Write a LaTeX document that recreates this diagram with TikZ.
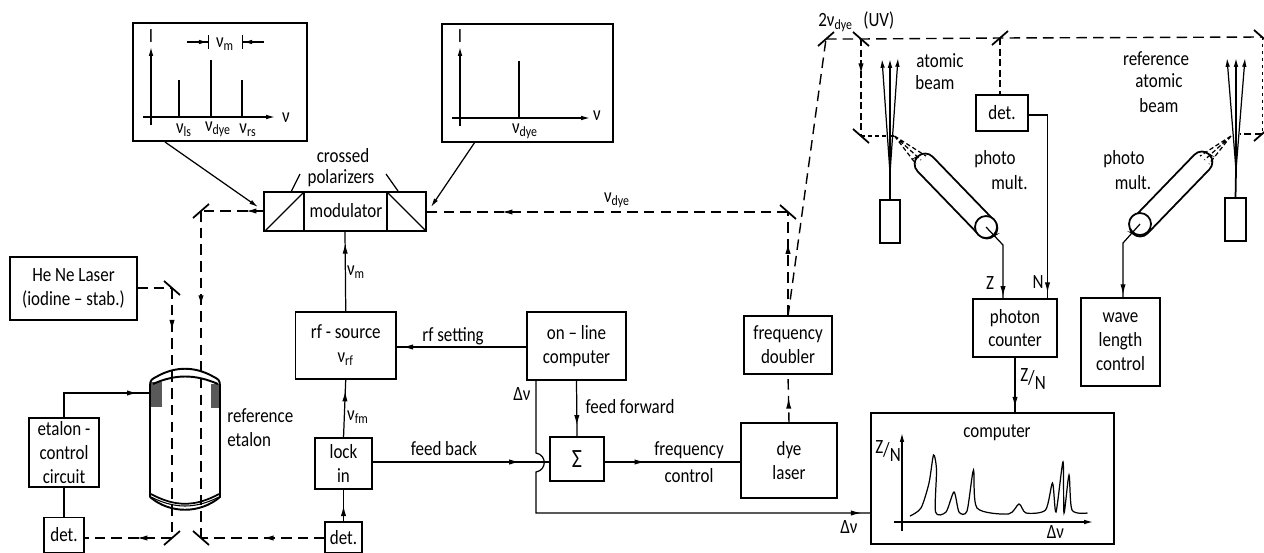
\documentclass[tikz,border=0pt]{standalone}
\usepackage{fontspec}
\setmainfont{Carlito}[FakeStretch=0.84]
\usetikzlibrary{positioning,calc,arrows.meta,decorations.markings}

\newcommand{\nusub}[1]{ν\textsubscript{#1}}
\newcommand{\zovern}{Z\raisebox{-0.3ex}{/}\raisebox{-0.8ex}{N}}

\tikzset{
  lbl/.style={inner sep=0pt, align=center, font=\fontsize{11.5}{13.6}\selectfont},
  block/.style={draw, line width=1pt, inner sep=0pt, outer sep=0pt, align=center, font=\fontsize{11.5}{13.6}\selectfont},
  beam/.style={line width=0.8pt, dash pattern=on 6pt off 3.5pt},
  wire/.style={line width=0.7pt},
  midtip/.style={postaction={decorate}, decoration={markings, mark=at position #1 with {\arrow{Latex[length=6pt,width=3pt]}}}},
  mirrorline/.style={line width=1pt}
}

\begin{document}
\begin{tikzpicture}[x=0.02cm, y=-0.02cm, >={Latex[length=5pt,width=2.6pt]}]
  \useasboundingbox (0,0) rectangle (1264,552);

  % spectra above the modulator
  \node[block, minimum width=3.48cm, minimum height=2.36cm] (specA) at (220,82) {};
  \node[block, minimum width=3.42cm, minimum height=2.36cm] (specB) at (527.5,83) {};
  \draw[wire, ->] (151,125) -- (151,47);
  \draw[wire, ->] (143,117) -- (275,117);
  \draw[wire] (179,117) -- (179,80);
  \draw[line width=1pt] (211,117) -- (211,60);
  \draw[wire] (242,117) -- (242,80);
  \draw[wire, -{Latex[length=5pt,width=2.6pt]Bar[width=8pt]}] (187,42) -- (209,42);
  \draw[wire, -{Latex[length=5pt,width=2.6pt]Bar[width=8pt]}] (264,42) -- (242,42);
  \node[lbl] (iA) at (151,36) {I};
  \node[lbl] (nuA) at (286,118) {ν};
  \node[lbl] (nuMod) at (225,44) {\nusub{m}};
  \node[lbl] (nuLs) at (184,130) {\nusub{ls}};
  \node[lbl] (nuDyeA) at (218,129) {\nusub{dye}};
  \node[lbl] (nuRs) at (248,130) {\nusub{rs}};
  \draw[wire, ->] (460,126) -- (460,47);
  \draw[wire, ->] (452,118) -- (590,118);
  \draw[wire] (519,118) -- (519,61);
  \node[lbl] (iB) at (460,36) {I};
  \node[lbl] (nuB) at (597,116) {ν};
  \node[lbl] (nuDyeB) at (525,131) {\nusub{dye}};

  % modulator with polarizers
  \node[block, minimum width=3.23cm, minimum height=0.78cm] (modulator) at (345,211.5) {};
  \node[lbl] (modText) at (346,211) {modulator};
  \draw[line width=1pt] (304,192) -- (304,231) (387,192) -- (387,231);
  \draw[wire] (265,231) -- (304,192) (387,192) -- (426,231);
  \node[lbl] (crossed) at (343,156) {crossed};
  \node[lbl] (polar) at (341,178) {polarizers};
  \coordinate (polTickA) at (291,192);
  \coordinate (polTickB) at (398,191);
  \draw[wire] (polTickA) -- (300,174);
  \draw[wire] (polTickB) -- (386,174);
  \coordinate (specAend) at (258,207);
  \coordinate (specBend) at (431,207);
  \coordinate (specAout) at (165,142);
  \coordinate (specBout) at (475,142);
  \draw[wire, ->] (specAout) -- (specAend);
  \draw[wire, ->] (specBout) -- (specBend);

  % mirrors
  \coordinate (mirMod) at (201,211);
  \coordinate (mirHeNe) at (172,288);
  \coordinate (mirDetL) at (172,538);
  \coordinate (mirDetR) at (201,538);
  \coordinate (mirDye) at (788,212);
  \coordinate (mirUV) at (826,39);
  \coordinate (mirSplit) at (861,39);
  \coordinate (mirDown) at (861,136);
  \coordinate (mirDet) at (1000,38);
  \coordinate (mirRefTop) at (1262,37);
  \coordinate (mirRefBot) at (1262,134);
  \foreach \m/\s in {mirMod/1,mirHeNe/-1,mirDetL/1,mirDetR/-1,mirDye/-1,mirUV/1,mirSplit/-1,mirDown/-1,mirDet/1,mirRefTop/-1,mirRefBot/1}
    \draw[mirrorline] ($(\m)+(-8,7*\s)$) -- ($(\m)+(8,-7*\s)$);

  % left part
  \node[block, minimum width=2.54cm, minimum height=1.26cm] (hene) at (73.5,288.5) {He Ne Laser\\(iodine -- stab.)};
  \node[block, minimum width=1.4cm, minimum height=1.38cm] (etalonctl) at (64,452.5) {etalon -\\control\\circuit};
  \node[block, minimum width=0.8cm, minimum height=0.7cm] (detL) at (64,535) {det.};
  \node[block, minimum width=0.74cm, minimum height=0.62cm] (detR) at (343.5,537.5) {det.};
  \draw[beam] (hene.east |- mirHeNe) -- (mirHeNe);
  \draw[beam, midtip=0.17] (mirHeNe) -- (mirDetL);
  \draw[beam, midtip=0.29] (modulator.west |- mirMod) -- (mirMod);
  \draw[beam, midtip=0.29] (mirMod) -- (mirDetR);
  \draw[beam, midtip=0.4] (mirDetL) -- (detL.east |- mirDetL);
  \draw[beam, midtip=0.5] (detR.west |- mirDetR) -- (mirDetR);

  % reference etalon
  \fill[black!65] (151,382) rectangle (162,407);
  \fill[black!65] (211,384) rectangle (220,408);
  \draw[line width=1.1pt] (150,497) -- (150,386) .. controls (150,380) and (152,379) .. (156,377) .. controls (175,366) and (195,366) .. (214,377) .. controls (218,379) and (220,380) .. (220,386) -- (220,497) .. controls (200,514) and (170,514) .. (150,497);
  \draw[line width=1.1pt] (153,384) .. controls (175,374) and (195,374) .. (218,384);
  \draw[line width=1pt] (151,494) .. controls (175,507) and (195,507) .. (219,494);
  \draw[line width=0.6pt] (151,497) .. controls (175,509) and (195,509) .. (219,497);
  \node[lbl, align=left, anchor=north west] (etalonText) at (227,408) {reference\\etalon};
  \coordinate (etalonIn) at (151,393);
  \draw[wire, midtip=0.88] (etalonctl.north) |- (etalonIn);
  \draw[wire] (etalonctl) -- (detL);

  % rf chain and on-line computer
  \node[block, minimum width=2.01cm, minimum height=1.34cm] (rfsource) at (345.75,345.5) {rf - source\\\nusub{rf}};
  \node[block, minimum width=1.14cm, minimum height=1.02cm] (lockin) at (343.5,463.5) {lock\\in};
  \node[block, minimum width=1.98cm, minimum height=1.36cm] (online) at (576.5,346) {on -- line\\computer};
  \node[block, minimum width=1.08cm, minimum height=0.88cm] (sigma) at (577,459) {\fontsize{15}{15}\selectfont Σ};
  \draw[wire, midtip=0.85] (rfsource.north) -- (modulator.south);
  \draw[wire, midtip=0.8] (lockin.north) -- (rfsource.south);
  \draw[wire, midtip=0.5] (detR.north) -- (lockin.south);
  \draw[wire, midtip=0.95] (online.west |- 527,347) -- (rfsource.east |- 396,347);
  \draw[wire, midtip=0.8] (online.south) -- (sigma.north);
  \draw[wire, midtip=0.83] (lockin.east |- 372,462) -- (sigma.west |- 550,462);
  \node[lbl] (nuMlabel) at (356,272) {\nusub{m}};
  \node[lbl] (nuFm) at (358,417) {\nusub{fm}};
  \node[lbl] (rfset) at (453,336) {rf setting};
  \node[lbl] (fback) at (444,449) {feed back};
  \node[lbl] (fforward) at (630,407) {feed forward};
  \node[lbl] (dnuA) at (522,394) {Δν};

  % dye laser path
  \node[block, minimum width=1.76cm, minimum height=1.16cm] (doubler) at (788,345) {frequency\\doubler};
  \node[block, minimum width=1.92cm, minimum height=1.5cm] (dye) at (789,460.5) {dye\\laser};
  \draw[wire, midtip=0.3] (sigma.east |- 604,462) -- (dye.west |- 741,462);
  \node[lbl] (fctl) at (689,462) {frequency\\[0.15em]control};
  \draw[beam, midtip=0.51] (dye.north) -- (doubler.south);
  \draw[beam, midtip=0.7] (doubler.north) -- (mirDye);
  \draw[beam, midtip=0.79] (mirDye) -- (modulator.east |- mirDye);
  \node[lbl] (nuDyeC) at (617,200) {\nusub{dye}};
  \draw[beam] (doubler.north) -- (mirUV);
  \draw[beam] (mirUV) -- (mirSplit) -- (mirDet) -- (mirRefTop);
  \node[lbl, anchor=west] (uvText) at (818,22) {2\nusub{dye} \,\,(UV)};

  % atomic beam, first chamber
  \coordinate (fanA) at (890,173);
  \coordinate (fanAin) at (894.5,136);
  \node[block, minimum width=0.4cm, minimum height=0.86cm] (ovenA) at (890,221.5) {};
  \draw[line width=1pt] (ovenA.north) -- (fanA);
  \draw[wire, ->] (fanA) -- (882,59);
  \draw[wire, ->] (fanA) -- (890,59);
  \draw[wire, ->] (fanA) -- (898,58);
  \draw[beam, midtip=0.36, dash pattern=on 4pt off 2pt] (mirSplit) -- (mirDown);
  \draw[beam, dash pattern=on 2.5pt off 1.5pt] (mirDown) -- (fanAin);
  \node[lbl] (atomA) at (940,61) {atomic};
  \node[lbl] (beamA) at (935,83) {beam};
  \node[draw, line width=1pt, shape=rectangle, rounded corners=0.21cm, minimum width=2.2cm, minimum height=0.42cm, rotate=-46, inner sep=0pt] (tubeA) at (956,196) {};
  \node[draw, circle, line width=1pt, fill=white, minimum size=0.44cm, inner sep=0pt] (capA) at (986,227) {};
  \draw[wire, dash pattern=on 2.5pt off 1.5pt] (fanAin) -- (916,164) (fanAin) -- (921,160) (fanAin) -- (926,156);
  \node[lbl] (photoA) at (995,159) {photo};
  \node[lbl] (multA) at (1009.5,183) {mult.};

  % detector and counter
  \node[block, minimum width=1.04cm, minimum height=0.72cm] (detM) at (1002,113) {det.};
  \draw[beam, dash pattern=on 4pt off 2pt] (mirDet) -- (mirDet |- detM.north);
  \node[block, minimum width=1.69cm, minimum height=1.16cm] (counter) at (1015,328) {photon\\counter};
  \coordinate (zIn) at (1003,299);
  \coordinate (nIn) at (1047.5,299);
  \coordinate (nBend) at (1047.5,115);
  \coordinate (zBend) at (1003,245);
  \draw[wire, midtip=0.97] (capA.center) -- (zBend) -- (zIn);
  \draw[wire, midtip=0.97] (detM.east |- nBend) -- (nBend) -- (nIn);
  \node[lbl] (zLabel) at (990,283) {Z};
  \node[lbl] (nLabel) at (1038,282) {N};

  % reference atomic beam
  \coordinate (fanB) at (1236,170);
  \coordinate (fanBin) at (1231,136);
  \node[block, minimum width=0.42cm, minimum height=0.86cm] (ovenB) at (1235.5,219.5) {};
  \draw[line width=1pt] (ovenB.north) -- (fanB);
  \draw[wire, ->] (fanB) -- (1227,58);
  \draw[wire, ->] (fanB) -- (1236,58);
  \draw[wire, ->] (fanB) -- (1245,58);
  \draw[line width=0.4pt, dash pattern=on 1.5pt off 2.5pt] (mirRefTop) -- (mirRefBot);
  \draw[beam, dash pattern=on 4pt off 2pt] (mirRefBot) -- (1240,134);
  \node[lbl] (refA) at (1156,59) {reference};
  \node[lbl] (refB) at (1159,81) {atomic};
  \node[lbl] (refC) at (1159,106) {beam};
  \node[draw, line width=1pt, shape=rectangle, rounded corners=0.21cm, minimum width=2.2cm, minimum height=0.42cm, rotate=46, inner sep=0pt] (tubeB) at (1171,194) {};
  \node[draw, circle, line width=1pt, fill=white, minimum size=0.44cm, inner sep=0pt] (capB) at (1140,224) {};
  \draw[wire, dash pattern=on 2.5pt off 1.5pt] (fanBin) -- (1209,164) (fanBin) -- (1204.5,160) (fanBin) -- (1200,156);
  \node[lbl] (photoB) at (1124,159) {photo};
  \node[lbl] (multB) at (1133,183) {mult.};
  \node[block, minimum width=1.58cm, minimum height=1.76cm] (wavectl) at (1120.5,342) {wave\\length\\control};
  \coordinate (waveBend) at (1123,243);
  \draw[wire, midtip=0.96] (capB.center) -- (waveBend) -- (waveBend |- wavectl.north);

  % computer with scan
  \node[block, minimum width=4.86cm, minimum height=2.62cm] (computer) at (992.5,478.5) {};
  \node[lbl] (compText) at (997,433) {computer};
  \draw[wire, midtip=0.9] (counter.south) -- (counter.south |- computer.north);
  \node[lbl] (zn) at (1033,379) {\zovern};
  \draw[wire, ->] (902,531) -- (902,433);
  \draw[wire, ->] (893.5,522) -- (1093,522);
  \node[lbl] (znPlot) at (888,451) {\zovern};
  \node[lbl] (dnuPlot) at (1055.5,532) {Δν};
  \draw[wire] plot[smooth, tension=0.45] coordinates {(910,516) (921,508) (929,483) (933.5,455) (936.5,470) (935.5,512) (946,512) (954,492) (959,512) (967,511) (973.5,470) (977,508) (1008.5,514) (1019,504) (1026,513) (1045.5,510) (1052.5,483) (1056,512) (1063,462) (1064,513) (1069,475) (1072,510) (1087.5,513)};
  \coordinate (dnuStart) at (536,380);
  \coordinate (hopTop) at (536,453);
  \coordinate (hopEnd) at (536,472);
  \coordinate (dnuBend) at (536,513);
  \draw[wire, midtip=0.98] (dnuStart) -- (hopTop) .. controls (547,455) and (547,470) .. (hopEnd) -- (dnuBend) -- (dnuBend -| computer.west);
  \node[lbl] (dnuB) at (849,527) {Δν};
\end{tikzpicture}
\end{document}
